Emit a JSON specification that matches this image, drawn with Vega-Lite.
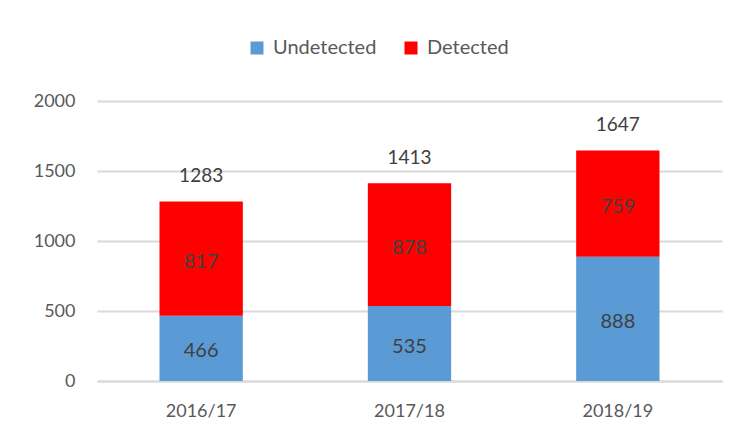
{
  "$schema": "https://vega.github.io/schema/vega-lite/v6.json",
  "autosize": {"type": "none"},
  "width": 625,
  "height": 280,
  "padding": {"left": 97, "top": 101, "right": 19, "bottom": 53},
  "background": "white",
  "config": {
    "view": {"stroke": null},
    "font": "Lato",
    "axis": {"labelFont": "Lato", "labelColor": "#595959", "labelFontSize": 18},
    "legend": {"labelFont": "Lato", "labelColor": "#595959", "labelFontSize": 20}
  },
  "data": {
    "values": [
      {"year": "2016/17", "series": "Undetected", "value": 466},
      {"year": "2016/17", "series": "Detected", "value": 817},
      {"year": "2017/18", "series": "Undetected", "value": 535},
      {"year": "2017/18", "series": "Detected", "value": 878},
      {"year": "2018/19", "series": "Undetected", "value": 888},
      {"year": "2018/19", "series": "Detected", "value": 759}
    ]
  },
  "layer": [
    {
      "mark": {"type": "bar"},
      "encoding": {
        "x": {
          "field": "year", "type": "nominal", "title": null,
          "scale": {"paddingInner": 0.6, "paddingOuter": 0.3},
          "axis": {"labelAngle": 0, "ticks": false, "domainColor": "#d9d9d9", "domainWidth": 2, "labelPadding": 21}
        },
        "y": {
          "field": "value", "type": "quantitative", "aggregate": "sum", "stack": "zero", "title": null,
          "scale": {"domain": [0, 2000], "nice": false},
          "axis": {"values": [0, 500, 1000, 1500, 2000], "format": "d", "ticks": false, "domain": false, "gridColor": "#d9d9d9", "gridWidth": 2, "labelPadding": 22}
        },
        "color": {
          "field": "series", "type": "nominal",
          "scale": {"domain": ["Undetected", "Detected"], "range": ["#5b9bd5", "#ff0000"]},
          "legend": {
            "title": null, "orient": "none", "direction": "horizontal",
            "legendX": 150, "legendY": -63,
            "symbolType": "square", "symbolSize": 169, "symbolStrokeWidth": 0,
            "columnPadding": 24, "labelOffset": 6
          }
        },
        "order": {"field": "series", "sort": "descending"}
      }
    },
    {
      "mark": {"type": "text", "fontSize": 20, "color": "#404040", "baseline": "middle", "dy": 3},
      "encoding": {
        "x": {"field": "year", "type": "nominal"},
        "y": {"field": "value", "type": "quantitative", "aggregate": "sum", "stack": "zero", "bandPosition": 0.5},
        "detail": {"field": "series"},
        "order": {"field": "series", "sort": "descending"},
        "text": {"field": "value", "type": "quantitative", "aggregate": "sum"}
      }
    },
    {
      "transform": [{"aggregate": [{"op": "sum", "field": "value", "as": "total"}], "groupby": ["year"]}],
      "mark": {"type": "text", "fontSize": 19, "color": "#404040", "baseline": "middle", "dy": -25},
      "encoding": {
        "x": {"field": "year", "type": "nominal"},
        "y": {"field": "total", "type": "quantitative"},
        "text": {"field": "total", "type": "quantitative"}
      }
    }
  ]
}
